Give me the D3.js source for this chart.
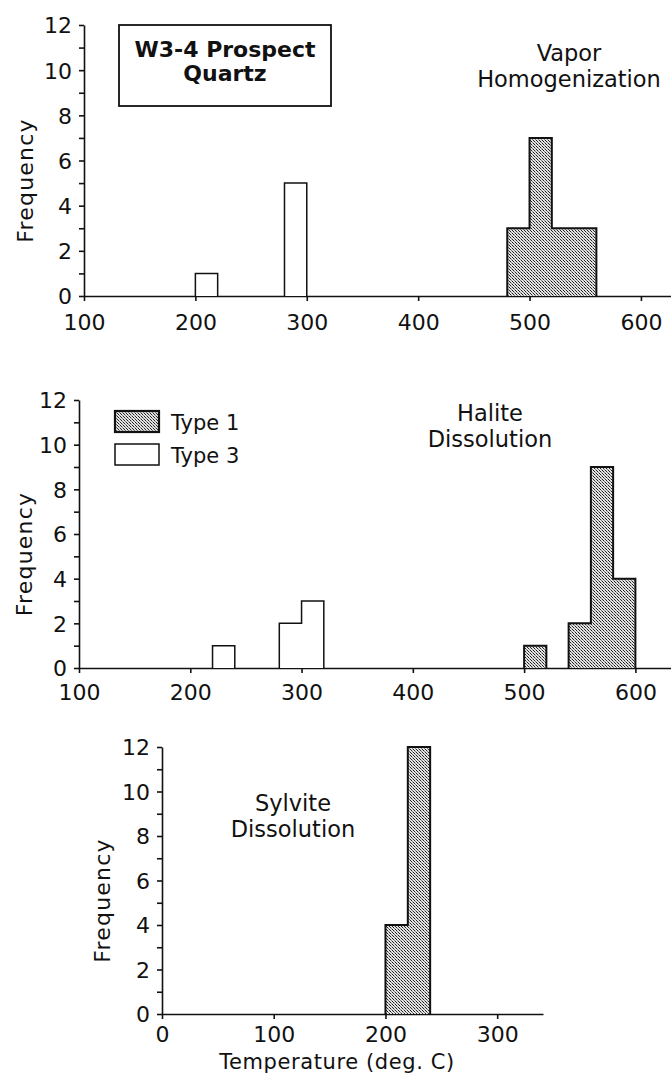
<!DOCTYPE html>
<html>
<head>
  <meta charset="utf-8">
  <title>W3-4 Prospect Quartz histograms</title>
  <style>
    body { margin: 0; background: #fff; }
    svg text { font-family: "DejaVu Sans", sans-serif; fill: #111; }
    .axis path, .axis line { stroke: #111; stroke-width: 1.6; fill: none; }
    .axis text { font-family: "DejaVu Sans", sans-serif; font-size: 22px; fill: #111; }
  </style>
  <script src="https://d3js.org/d3.v7.min.js"></script>
</head>
<body>
  <div id="chart"></div>
  <script>
    // bin width (deg. C) and histogram data, per panel and inclusion type
    var binWidth = 20;

    var vaporType1Start = [480, 500, 520, 540];
    var vaporType1Count = [3, 7, 3, 3];
    var vaporType3Start = [200, 280];
    var vaporType3Count = [1, 5];

    var haliteType1Start = [500, 540, 560, 580];
    var haliteType1Count = [1, 2, 9, 4];
    var haliteType3Start = [220, 280, 300];
    var haliteType3Count = [1, 2, 3];

    var sylviteType1Start = [200, 220];
    var sylviteType1Count = [4, 12];

    var freqTicks = [0, 2, 4, 6, 8, 10, 12];
    var tempTicksAB = [100, 200, 300, 400, 500, 600];
    var tempTicksC = [0, 100, 200, 300];

    var svg = d3.select("#chart").append("svg")
        .attr("width", 671)
        .attr("height", 1081);

    // stipple pattern for Type 1 bars
    var defs = svg.append("defs");
    var pat = defs.append("pattern")
        .attr("id", "stipple")
        .attr("patternUnits", "userSpaceOnUse")
        .attr("width", 3).attr("height", 3);
    pat.append("rect").attr("width", 3).attr("height", 3).attr("fill", "#e2e2e2");
    pat.append("rect").attr("x", 0).attr("y", 0).attr("width", 1).attr("height", 1).attr("fill", "#222");
    pat.append("rect").attr("x", 1).attr("y", 1).attr("width", 1).attr("height", 1).attr("fill", "#777");
    pat.append("rect").attr("x", 2).attr("y", 2).attr("width", 1).attr("height", 1).attr("fill", "#222");

    function makeBins(starts, counts) {
      return starts.map(function(s, i) { return {x0: s, x1: s + binWidth, n: counts[i]}; });
    }

    // split bins into runs that touch each other
    function runs(bins) {
      var out = [], cur = [];
      bins.forEach(function(b) {
        if (cur.length && cur[cur.length - 1].x1 !== b.x0) { out.push(cur); cur = []; }
        cur.push(b);
      });
      if (cur.length) out.push(cur);
      return out;
    }

    function drawBins(g, x, y, bins, fill, sw) {
      var line = d3.line().x(function(p) { return x(p[0]); }).y(function(p) { return y(p[1]); });
      runs(bins).forEach(function(run) {
        var pts = [[run[0].x0, 0]];
        run.forEach(function(b) { pts.push([b.x0, b.n]); pts.push([b.x1, b.n]); });
        pts.push([run[run.length - 1].x1, 0]);
        g.append("path")
          .attr("d", line(pts))
          .attr("fill", fill)
          .attr("stroke", "#111")
          .attr("stroke-width", sw)
          .attr("stroke-linejoin", "miter");
      });
    }

    function panel(opt) {
      var x = d3.scaleLinear().domain(opt.xDomain).range(opt.xRange);
      var y = d3.scaleLinear().domain([0, 12]).range(opt.yRange);
      var g = svg.append("g");

      var yAxis = d3.axisLeft(y)
        .tickValues(d3.range(0, 13))
        .tickSize(5)
        .tickSizeOuter(0)
        .tickPadding(7)
        .tickFormat(function(d) { return freqTicks.indexOf(d) >= 0 ? d : ""; });
      g.append("g").attr("class", "axis")
        .attr("transform", "translate(" + opt.xRange[0] + ",0)")
        .call(yAxis)
        .call(function(s) { s.selectAll("text").attr("dy", "0.36em"); });

      var xAxis = d3.axisBottom(x)
        .tickValues(opt.xTicks)
        .tickSize(5)
        .tickSizeOuter(0)
        .tickPadding(opt.xPad);
      g.append("g").attr("class", "axis")
        .attr("transform", "translate(0," + opt.yRange[0] + ")")
        .call(xAxis);

      g.append("text")
        .attr("transform", "translate(" + opt.ylabX + "," + ((opt.yRange[0] + opt.yRange[1]) / 2 + 20) + ") rotate(-90)")
        .attr("text-anchor", "middle")
        .attr("dy", "0.35em")
        .style("font-size", "22px")
        .style("letter-spacing", "1.2px")
        .text("Frequency");

      opt.series.forEach(function(s) {
        drawBins(g, x, y, makeBins(s.start, s.count), s.fill, s.sw);
      });

      g.selectAll("text.title")
        .data(opt.title)
        .join("text")
        .attr("class", "title")
        .attr("x", opt.titleX)
        .attr("y", function(d, i) { return opt.titleY + i * 26; })
        .attr("text-anchor", "middle")
        .style("font-size", "22.5px")
        .text(function(d) { return d; });
      return g;
    }

    // Panel A: vapor homogenization
    var gA = panel({
      xDomain: [100, 627], xRange: [84, 671], yRange: [296, 25],
      xTicks: tempTicksAB, ylabX: 25, xPad: 13,
      series: [
        {start: vaporType3Start, count: vaporType3Count, fill: "#fff", sw: 1.5},
        {start: vaporType1Start, count: vaporType1Count, fill: "url(#stipple)", sw: 2}
      ],
      title: ["Vapor", "Homogenization"], titleX: 569, titleY: 61
    });
    gA.append("rect")
      .attr("x", 119).attr("y", 25).attr("width", 212).attr("height", 81)
      .attr("fill", "#fff").attr("stroke", "#111").attr("stroke-width", 1.8);
    gA.selectAll("text.box")
      .data(["W3-4 Prospect", "Quartz"])
      .join("text")
      .attr("class", "box")
      .attr("x", 225)
      .attr("y", function(d, i) { return 57 + i * 24; })
      .attr("text-anchor", "middle")
      .style("font-size", "22px")
      .style("font-weight", "bold")
      .text(function(d) { return d; });

    // Panel B: halite dissolution
    var gB = panel({
      xDomain: [100, 632], xRange: [79, 671], yRange: [668, 400],
      xTicks: tempTicksAB, ylabX: 24, xPad: 11,
      series: [
        {start: haliteType3Start, count: haliteType3Count, fill: "#fff", sw: 1.5},
        {start: haliteType1Start, count: haliteType1Count, fill: "url(#stipple)", sw: 2}
      ],
      title: ["Halite", "Dissolution"], titleX: 490, titleY: 421
    });
    var legend = [
      {label: "Type 1", fill: "url(#stipple)", sw: 2.2},
      {label: "Type 3", fill: "#fff", sw: 1.5}
    ];
    var lg = gB.selectAll("g.legend").data(legend).join("g")
      .attr("class", "legend")
      .attr("transform", function(d, i) { return "translate(115," + (411 + i * 33) + ")"; });
    lg.append("rect").attr("width", 44).attr("height", 21)
      .attr("fill", function(d) { return d.fill; })
      .attr("stroke", "#111").attr("stroke-width", function(d) { return d.sw; });
    lg.append("text").attr("x", 56).attr("y", 19)
      .style("font-size", "21px")
      .text(function(d) { return d.label; });

    // Panel C: sylvite dissolution
    var gC = panel({
      xDomain: [0, 341], xRange: [162, 543], yRange: [1014, 747],
      xTicks: tempTicksC, ylabX: 102, xPad: 7,
      series: [
        {start: sylviteType1Start, count: sylviteType1Count, fill: "url(#stipple)", sw: 2}
      ],
      title: ["Sylvite", "Dissolution"], titleX: 293, titleY: 811
    });
    gC.append("text")
      .attr("x", 337).attr("y", 1069)
      .attr("text-anchor", "middle")
      .style("font-size", "21px")
      .style("letter-spacing", "0.6px")
      .text("Temperature (deg. C)");
  </script>
</body>
</html>
